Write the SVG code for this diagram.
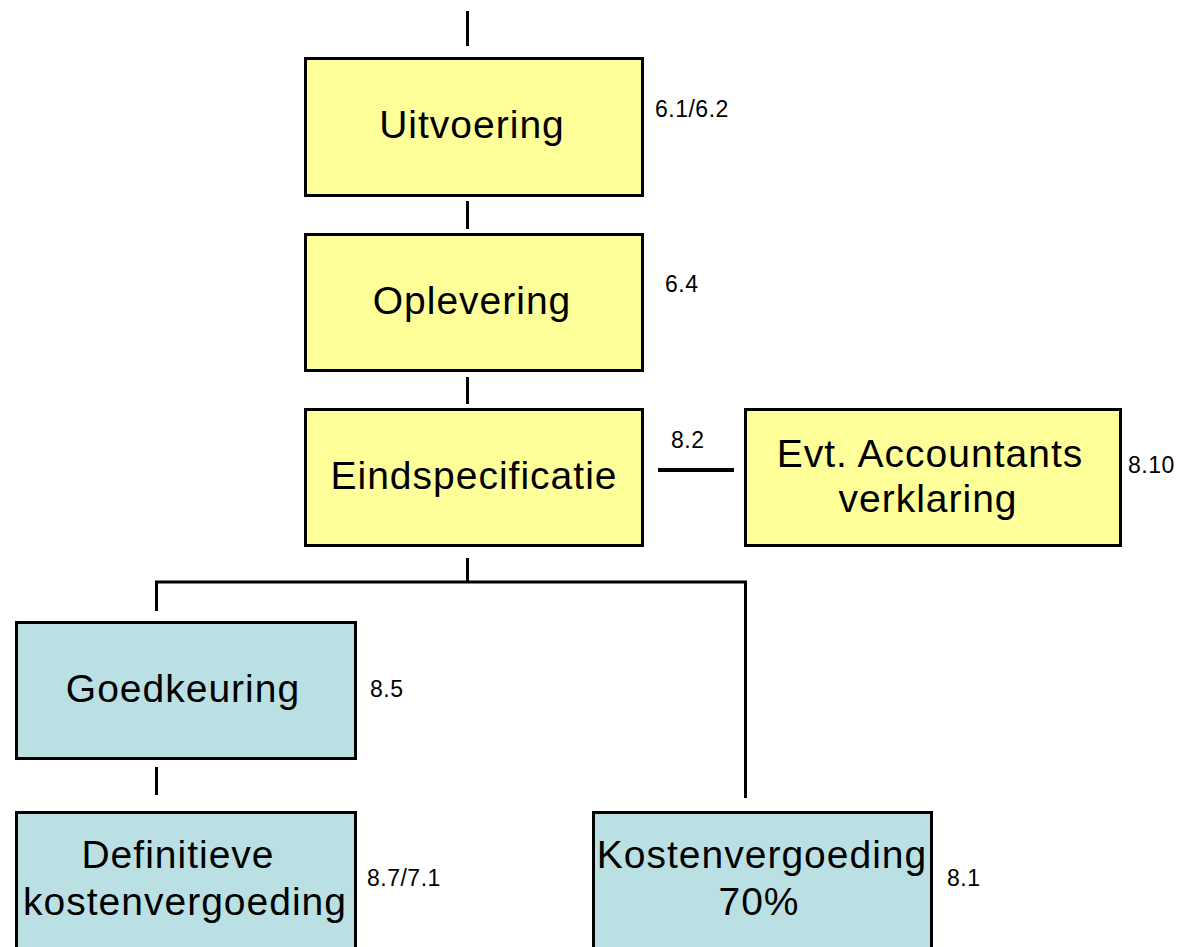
<svg xmlns="http://www.w3.org/2000/svg" width="1184" height="947" viewBox="0 0 1184 947">
<style>
.box{stroke:#000;stroke-width:3}
.y{fill:#FFFF99}
.b{fill:#BBE0E3}
.t{font-family:"Liberation Sans",Arial,sans-serif;font-size:39px;letter-spacing:1px;fill:#000;text-anchor:middle}
.n{font-family:"Liberation Sans",Arial,sans-serif;font-size:23px;letter-spacing:0.5px;fill:#000}
.c{stroke:#000;stroke-width:3;fill:none}
</style>
<rect width="1184" height="947" fill="#fff"/>
<g id="connectors">
<line class="c" x1="467.5" y1="11" x2="467.5" y2="46"/>
<line class="c" x1="467.5" y1="201" x2="467.5" y2="229"/>
<line class="c" x1="467.5" y1="377" x2="467.5" y2="404"/>
<line class="c" x1="467.5" y1="558" x2="467.5" y2="582"/>
<polyline class="c" points="156.5,611 156.5,582 745.5,582 745.5,798"/>
<line class="c" x1="156.5" y1="767" x2="156.5" y2="795"/>
<line x1="658" y1="470" x2="734" y2="470" stroke="#000" stroke-width="4"/>
</g>
<g id="uitvoering">
<rect class="box y" x="305.5" y="58.5" width="337" height="137"/>
<text class="t" x="472" y="138">Uitvoering</text>
<text class="n" x="655" y="117">6.1/6.2</text>
</g>
<g id="oplevering">
<rect class="box y" x="305.5" y="234.5" width="337" height="136"/>
<text class="t" x="472" y="314">Oplevering</text>
<text class="n" x="665" y="292">6.4</text>
</g>
<g id="eindspecificatie">
<rect class="box y" x="305.5" y="409.5" width="337" height="136"/>
<text class="t" x="474" y="489">Eindspecificatie</text>
<text class="n" x="671" y="448">8.2</text>
</g>
<g id="accountants">
<rect class="box y" x="745.5" y="409.5" width="375" height="136"/>
<text class="t" x="930" y="467">Evt. Accountants</text>
<text class="t" x="928" y="512">verklaring</text>
<text class="n" x="1128" y="473">8.10</text>
</g>
<g id="goedkeuring">
<rect class="box b" x="16.5" y="622.5" width="339" height="136"/>
<text class="t" x="183" y="702">Goedkeuring</text>
<text class="n" x="370" y="697">8.5</text>
</g>
<g id="definitieve">
<rect class="box b" x="16.5" y="812.5" width="339" height="136"/>
<text class="t" x="178" y="868">Definitieve</text>
<text class="t" x="185" y="915">kostenvergoeding</text>
<text class="n" x="367" y="886">8.7/7.1</text>
</g>
<g id="kostenvergoeding">
<rect class="box b" x="593.5" y="812.5" width="338" height="136"/>
<text class="t" x="762" y="868">Kostenvergoeding</text>
<text class="t" x="759" y="915">70%</text>
<text class="n" x="947" y="886">8.1</text>
</g>
</svg>
